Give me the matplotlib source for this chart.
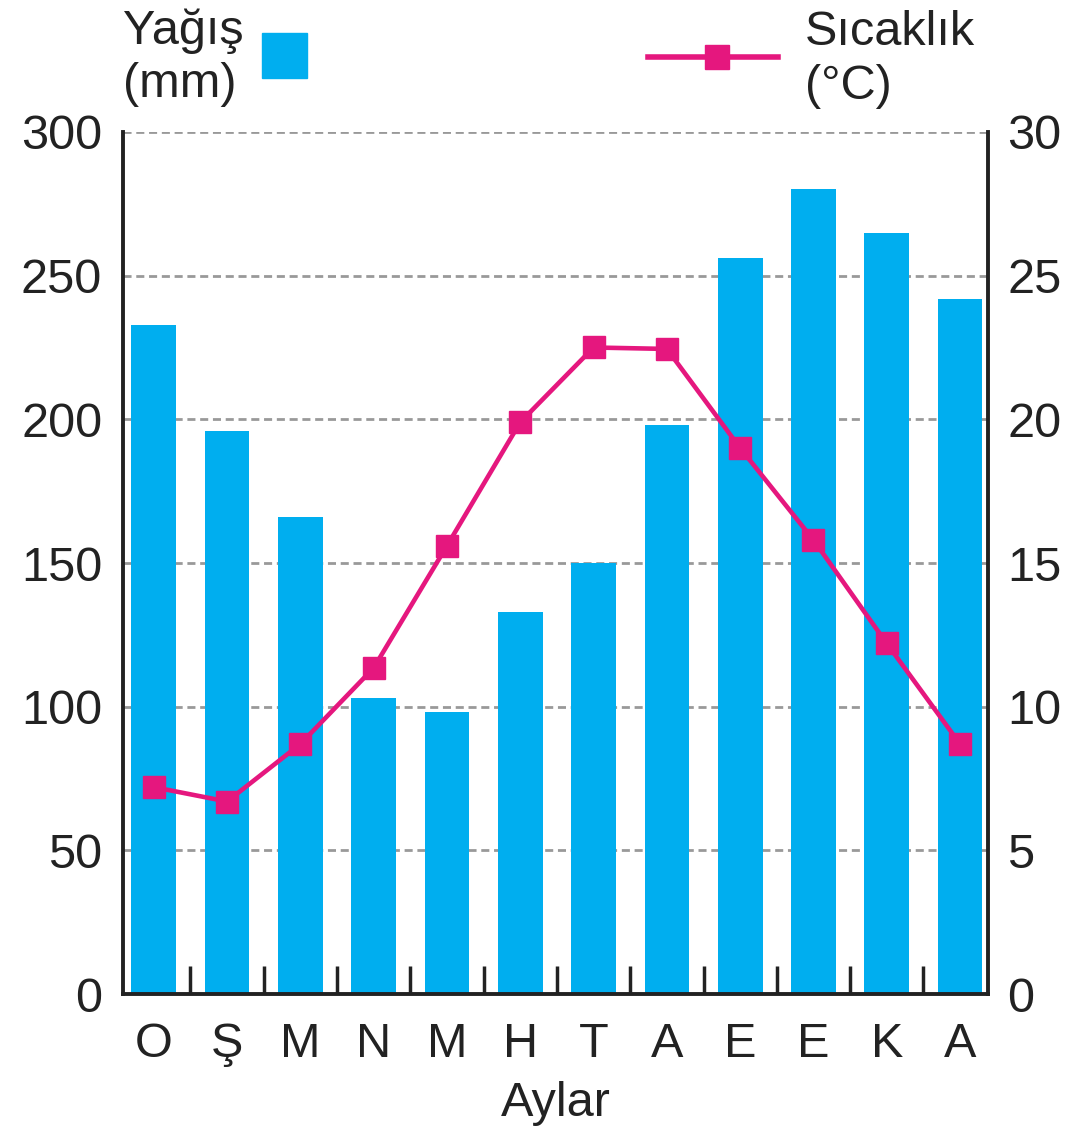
"""Aylara göre yağış (mm) ve sıcaklık (°C) grafiği."""

import matplotlib

matplotlib.use("Agg")
import matplotlib.pyplot as plt
from matplotlib.lines import Line2D
from matplotlib.patches import Rectangle

months = ["O", "Ş", "M", "N", "M", "H", "T", "A", "E", "E", "K", "A"]
rainfall_mm = [233, 196, 166, 103, 98, 133, 150, 198, 256, 280, 265, 242]
temperature_c = [7.2, 6.7, 8.7, 11.35, 15.6, 19.9, 22.5, 22.45, 19.0, 15.8, 12.2, 8.7]
rain_ticks = [0, 50, 100, 150, 200, 250, 300]
temp_ticks = [0, 5, 10, 15, 20, 25, 30]

BLUE = "#00AEEF"
PINK = "#E5177E"
TXT = "#222222"
FS = 35

plt.rcParams["font.family"] = ["Liberation Sans", "DejaVu Sans"]

fig = plt.figure(figsize=(10.75, 11.31), dpi=100)
ax = fig.add_axes([0.1144, 0.1211, 0.8046, 0.7622])
x = list(range(len(months)))

ax.bar(x, rainfall_mm, width=0.61, color=BLUE, zorder=2)
ax.set_xlim(-0.42, 11.38)
ax.set_ylim(0, 300)
ax.set_yticks(rain_ticks)
ax.tick_params(axis="y", length=0, labelsize=FS, pad=15, colors=TXT)
ax.set_xticks(x)
ax.set_xticklabels(months)
ax.tick_params(axis="x", length=0, labelsize=FS, pad=20, colors=TXT)
ax.set_xticks([i + 0.5 for i in x[:-1]], minor=True)
ax.tick_params(axis="x", which="minor", direction="in", length=20, width=2.5, color=TXT)
ax.set_xlabel("Aylar", fontsize=FS, color=TXT, labelpad=10)

for v in rain_ticks[1:]:
    ax.axhline(v, color="#999999", lw=2, ls=(0, (2.9, 1.7)), zorder=1)

for side in ["left", "right", "bottom"]:
    ax.spines[side].set_linewidth(2.8)
    ax.spines[side].set_color(TXT)
ax.spines["top"].set_visible(False)

ax2 = ax.twinx()
ax2.plot(x, temperature_c, color=PINK, lw=3.3, marker="s", markersize=16, zorder=3)
ax2.set_ylim(0, 30)
ax2.set_yticks(temp_ticks)
ax2.tick_params(axis="y", length=0, labelsize=FS, pad=14, colors=TXT)
for side in ["left", "right", "bottom", "top"]:
    ax2.spines[side].set_visible(False)

# legend
fig.text(123 / 1075, 1 - 8 / 1131, "Yağış\n(mm)", fontsize=FS, va="top", ha="left",
         linespacing=1.25, color=TXT)
fig.patches.append(Rectangle((262 / 1075, 1 - 78 / 1131), 45 / 1075, 45 / 1131,
                             transform=fig.transFigure, color=BLUE))
fig.lines.append(Line2D([648 / 1075, 778 / 1075], [1 - 57 / 1131] * 2, transform=fig.transFigure,
                        color=PINK, lw=4))
fig.lines.append(Line2D([717 / 1075], [1 - 57 / 1131], transform=fig.transFigure,
                        color=PINK, marker="s", markersize=17))
fig.text(805 / 1075, 1 - 10 / 1131, "Sıcaklık\n(°C)", fontsize=FS, va="top", ha="left",
         linespacing=1.25, color=TXT)

fig.savefig("out.png", dpi=100)
